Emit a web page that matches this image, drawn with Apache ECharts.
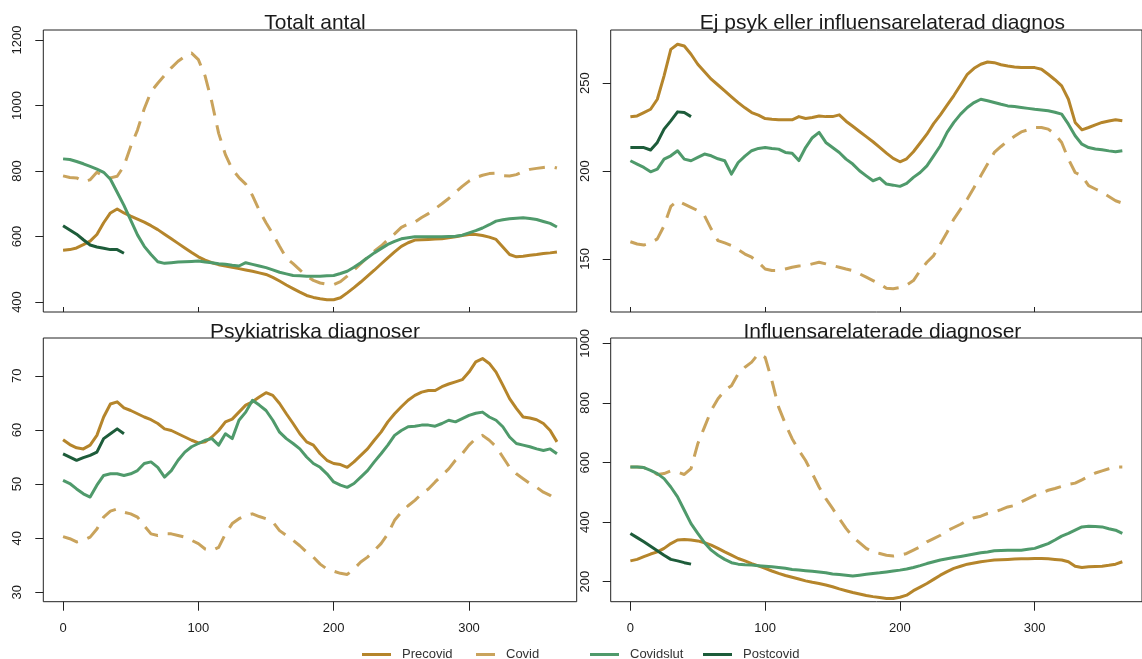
<!DOCTYPE html>
<html><head><meta charset="utf-8">
<script src="https://cdn.jsdelivr.net/npm/echarts@6/dist/echarts.min.js"></script>
<style>html,body{margin:0;padding:0;background:#fff;overflow:hidden}#c{width:1142px;height:659px}</style>
</head><body><div id="c"></div>
<script>
// ---------- DATA ----------
const days = [0,5,10,15,20,25,30,35,40,45,
  50,55,60,65,70,75,80,85,90,95,
  100,105,110,115,120,125,130,135,140,145,
  150,155,160,165,170,175,180,185,190,195,
  200,205,210,215,220,225,230,235,240,245,
  250,255,260,265,270,275,280,285,290,295,
  300,305,310,315,320,325,330,335,340,345,
  350,355,360,365];
const postDays = [0,5,10,15,20,25,30,35,40,45];
const xTicks = [0,100,200,300];

const titles = ["Totalt antal","Ej psyk eller influensarelaterad diagnos","Psykiatriska diagnoser","Influensarelaterade diagnoser"];
const seriesNames = ["Precovid","Covid","Covidslut","Postcovid"];

// Totalt antal
const totPre = [558,560,565,575,586,606,642,672,684,672,
  662,653,644,633,621,607,593,579,565,551,
  538,528,520,514,510,506,502,498,494,489,
  484,475,464,452,441,430,420,414,410,407,
  407,413,428,444,461,479,497,516,535,553,
  570,581,589,590,591,592,593,596,599,603,
  606,606,603,598,591,568,545,538,540,543,
  545,548,550,553];
const totCovid = [785,780,779,768,773,796,784,779,784,815,
  875,925,990,1042,1068,1092,1115,1135,1150,1160,
  1140,1090,1010,915,850,805,780,760,725,680,
  642,608,570,535,517,498,479,466,458,454,
  453,462,479,498,517,537,555,571,590,608,
  628,638,644,658,670,685,700,716,735,753,
  769,780,787,792,793,786,785,789,798,805,
  808,811,814,809];
const totSlut = [837,835,829,822,814,806,796,775,735,695,
  650,605,570,545,523,518,520,522,523,524,
  525,522,520,517,515,512,510,520,515,510,
  505,498,491,486,481,480,479,479,479,480,
  481,487,494,506,520,535,550,563,576,585,
  593,596,599,599,599,599,599,600,601,604,
  611,618,626,636,647,651,654,656,657,655,
  652,646,640,629];
const totPost = [633,620,607,590,574,568,564,560,560,549];
const totTicks = [400,600,800,1000,1200];

// Ej psyk eller influensarelaterad diagnos
const ejPre = [230.9,231.4,233.3,235.2,240.9,254.2,269.3,272.2,271.2,266.5,
  260.8,256.5,252.3,249,245.6,242.3,239,236,233.3,231.8,
  229.9,229.5,229.2,229.2,229.2,231,229.9,230.5,231.4,231,
  231,232,228.4,225.5,222.5,219.6,216.7,213.5,210.2,207.2,
  205.3,207,211,216,221,227,232,237.5,243,249,
  255.1,258.5,260.8,262.1,261.7,260.5,259.8,259.3,258.9,258.9,
  258.9,258,255.1,252,248.5,240.9,227.7,223.5,224.8,226.3,
  227.7,228.5,229.2,228.6];
const ejCovid = [159.8,158.5,157.9,159.1,161.4,168.9,179.9,183.1,181.2,179.4,
  177.5,174.6,167,160.4,159.1,157.6,155.3,152.8,151,148.1,
  144.3,143.4,143.4,144.3,145.3,146,146.2,147.2,148.1,147.2,
  146.2,145.3,144.3,143.4,141.5,139.6,137.7,135.8,133.3,133,
  133.7,135.2,137.7,143.4,148.1,151.9,158.5,165.2,172.7,178.4,
  184.1,190.7,197.3,204,210.6,214,217.2,219.8,222.3,223.5,
  224.8,224.8,223.9,221,216.3,206.8,199.2,197.3,191.7,189.8,
  187.9,185.5,183.1,181.8];
const ejSlut = [205.9,204,202.1,199.6,201.1,206.8,208.7,211.6,206.8,205.9,
  207.8,209.7,208.7,207,205.9,198.3,204.9,208.5,211.6,212.9,
  213.4,212.9,212.5,210.6,210.2,206,213.4,219,222,216.3,
  213.4,210.6,206.8,204,200.2,197.3,194.5,196,192.6,192,
  191.3,193,196.4,199.2,203,208.7,214.4,222,227.7,232.4,
  236.2,239,240.9,240,239,238,237.1,236.7,236.2,235.7,
  235.2,234.8,234.3,233.5,232.4,226.7,220.1,215.3,213.4,212.6,
  212.1,211.5,211,211.6];
const ejPost = [213.4,213.4,213.4,212,216.3,223.9,228.6,233.7,233.3,231];
const ejTicks = [150,200,250];

// Psykiatriska diagnoser
const psyPre = [58.2,57.3,56.7,56.5,57.2,59,62.4,64.8,65.2,64.1,
  63.6,63,62.4,61.9,61.2,60.2,59.9,59.3,58.7,58.1,
  57.6,57.8,58.7,59.9,61.5,62,63.3,64.6,65.2,66.1,
  66.9,66.4,64.9,63,61.2,59.3,57.8,57.2,55.6,54.4,
  53.8,53.6,53.1,54.1,55.3,56.5,58.1,59.6,61.5,63,
  64.3,65.5,66.4,67,67.3,67.3,68,68.5,68.9,69.3,
  70.7,72.6,73.2,72.3,70.7,68.3,65.8,64,62.4,62.2,
  61.9,61.2,59.9,57.8];
const psyCovid = [40.3,39.9,39.3,39.6,40.2,41.7,43.9,45,45.4,44.8,
  44.5,43.9,42.3,40.8,40.5,40.8,40.8,40.5,40.2,39.6,
  39,38,37.7,38.3,40.8,42.7,43.6,44.2,44.5,44,
  43.6,43,41.4,40.5,39.6,38.6,37.4,36.5,35.2,34.3,
  33.9,33.5,33.3,34.3,35.6,36.5,37.7,39,40.8,43.3,
  44.8,46,47,48.2,49.1,50.4,51.6,52.8,54.4,55.6,
  57.2,58.4,59,58.1,56.9,55,53.1,51.9,51,50.1,
  49.4,48.5,47.9,47];
const psySlut = [50.7,50.1,49.1,48.2,47.6,49.8,51.6,51.9,51.9,51.6,
  51.9,52.5,53.8,54.1,53.1,51.3,52.5,54.4,55.9,56.9,
  57.5,58.1,58.4,57.2,59.3,58.4,61.8,63.3,65.5,64.6,
  63.6,61.8,59.6,58.4,57.5,56.5,55,53.8,53.1,51.9,
  50.4,49.8,49.4,50.1,51.3,52.5,54.1,55.6,57.2,59,
  59.9,60.6,60.7,60.9,60.9,60.7,61.2,61.8,61.5,62.1,
  62.7,63.1,63.3,62.4,61.8,60.6,58.7,57.5,57.2,56.9,
  56.5,56.2,56.5,55.6];
const psyPost = [55.6,55,54.4,54.9,55.3,55.9,58.4,59.3,60.2,59.3];
const psyTicks = [30,40,50,60,70];

// Influensarelaterade diagnoser
const infPre = [270,275,284,293,300,312,328,340,342,340,
  337,331,323,312,300,289,278,270,261,253,
  245,236,228,221,215,209,203,198,194,189,
  183,176,170,164,159,154,150,147,144,144,
  148,155,170,182,194,208,222,234,245,252,
  259,263,267,270,273,274,275,276,277,277,
  278,278,277,275,273,267,252,248,250,251,
  252,255,259,267];
const infCovid = [585,585,583,574,560,563,572,568,560,580,
  663,719,775,814,842,858,898,920,937,965,
  953,875,786,730,680,641,607,563,518,479,
  446,412,379,351,331,312,300,295,289,286,
  289,295,306,317,334,345,356,371,382,393,
  406,415,420,429,434,442,451,456,468,479,
  490,498,507,513,520,527,531,542,554,565,
  572,579,585,585];
const infSlut = [585,585,583,574,563,546,518,485,440,395,
  362,331,306,289,275,264,259,257,256,254,
  252,250,248,245,241,239,237,235,233,230,
  226,224,222,219,222,225,228,230,233,236,
  239,243,248,254,261,267,273,277,281,285,
  289,293,297,300,304,305,306,306,306,309,
  312,320,328,340,353,362,373,384,386,385,
  384,378,373,362];
const infPost = [362,348,334,319,304,289,275,270,264,259];
const infTicks = [200,400,600,800,1000];

// ---------- STYLE / LAYOUT ----------
const colors = {Precovid:'#B5852B', Covid:'#C9A35C', Covidslut:'#4F9A6B', Postcovid:'#1D5C3A'};
const panels = [
  {title:titles[0], grid:{left:43.3, top:30, width:533.4, height:282}, ymin:369.5, ymax:1230.5, ticks:totTicks, bottom:false,
   data:[totPre,totCovid,totSlut,totPost]},
  {title:titles[1], grid:{left:610.7, top:30, width:533.4, height:282}, ymin:119.8, ymax:280.3, ticks:ejTicks, bottom:false,
   data:[ejPre,ejCovid,ejSlut,ejPost]},
  {title:titles[2], grid:{left:43.3, top:338, width:533.4, height:263.7}, ymin:28.26, ymax:77.0, ticks:psyTicks, bottom:true,
   data:[psyPre,psyCovid,psySlut,psyPost]},
  {title:titles[3], grid:{left:610.7, top:338, width:533.4, height:263.7}, ymin:133, ymax:1018, ticks:infTicks, bottom:true,
   data:[infPre,infCovid,infSlut,infPost]}
];
const font = '"Liberation Sans", Arial, Helvetica, sans-serif';
const ink = '#1a1a1a';

const option = {
  animation:false, backgroundColor:'#fff',
  textStyle:{fontFamily:font},
  title:[], grid:[], xAxis:[], yAxis:[], series:[], legend:[]
};

panels.forEach((p,i)=>{
  option.grid.push(Object.assign({show:true, borderColor:'#222', borderWidth:1, backgroundColor:'transparent'}, p.grid));
  option.title.push({
    text:p.title, left:p.grid.left + p.grid.width/2, top: p.bottom ? 317 : 8, textAlign:'center',
    textStyle:{fontFamily:font, fontSize:21, fontWeight:'normal', color:ink, lineHeight:21}
  });
  option.xAxis.push({
    type:'value', gridIndex:i, min:-14.6, max:379.6, position:'bottom',
    axisLine:{show:false, onZero:false}, splitLine:{show:false},
    axisTick:{show:true, customValues:xTicks, inside:!p.bottom, length:p.bottom?9:5, lineStyle:{color:'#222', width:1}},
    axisLabel:{show:p.bottom, customValues:xTicks, margin:20, fontSize:13, color:ink, fontFamily:font,
      formatter:(v)=>String(v)}
  });
  option.yAxis.push({
    type:'value', gridIndex:i, min:p.ymin, max:p.ymax, position:'left',
    axisLine:{show:false, onZero:false}, splitLine:{show:false},
    axisTick:{show:true, customValues:p.ticks, length:8, lineStyle:{color:'#222', width:1}},
    axisLabel:{customValues:p.ticks, rotate:90, margin:19, fontSize:13, color:ink, fontFamily:font,
      formatter:(v)=>String(v)}
  });
  seriesNames.forEach((nm,k)=>{
    const xs = nm==='Postcovid' ? postDays : days;
    const ys = p.data[k];
    option.series.push({
      name:nm, type:'line', xAxisIndex:i, yAxisIndex:i, showSymbol:false, symbol:'none',
      data: xs.map((d,j)=>[d, ys[j]]),
      lineStyle:{color:colors[nm], width:3, type: nm==='Covid' ? [16,10] : 'solid', cap:'butt', join:'round'},
      itemStyle:{color:colors[nm]},
      z: 2+k
    });
  });
});

const legendPos = [{name:'Precovid', left:357, w:29},{name:'Covid', left:471, w:19},{name:'Covidslut', left:585, w:29},{name:'Postcovid', left:698, w:29}];
legendPos.forEach(l=>{
  option.legend.push({
    data:[{name:l.name, icon:'rect', itemStyle:{color:colors[l.name]}}],
    left:l.left, top:643, itemWidth:l.w, itemHeight:3, selectedMode:false,
    textStyle:{fontFamily:font, fontSize:13, color:'#333', padding:[0,0,0,6]}
  });
});

const chart = echarts.init(document.getElementById('c'), null, {renderer:'canvas'});
chart.setOption(option);
</script>
</body></html>
